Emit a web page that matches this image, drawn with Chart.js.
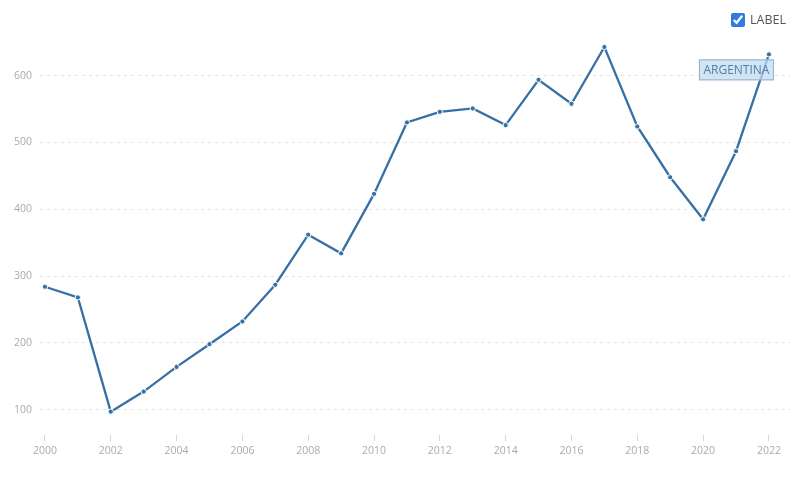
<!DOCTYPE html>
<html>
<head>
<meta charset="utf-8">
<script src="https://cdn.jsdelivr.net/npm/chart.js@4"></script>
<style>
  html, body { margin: 0; padding: 0; background: #fff; }
  #wrap { position: relative; width: 800px; height: 501px; font-family: "Open Sans", sans-serif; }
  #legend { position: absolute; top: 11px; left: 731px; display: flex; align-items: center; font-size: 12.5px; color: #555; }
  #legend input { margin: 0 5px 0 0; width: 14px; height: 14px; accent-color: #2f7be0; }
</style>
</head>
<body>
<div id="wrap">
  <canvas id="chart" width="800" height="501"></canvas>
  <label id="legend"><input type="checkbox" checked>LABEL</label>
</div>
<script>
// Argentina series
const YEARS = [2000, 2001, 2002, 2003, 2004, 2005, 2006, 2007, 2008, 2009, 2010, 2011,
               2012, 2013, 2014, 2015, 2016, 2017, 2018, 2019, 2020, 2021, 2022];
const VALUES = [284, 268, 97, 127, 164, 198, 232, 287, 362, 334, 423, 530,
                546, 551, 526, 594, 558, 643, 524, 448, 385, 487, 632];
const X_TICKS = [2000, 2002, 2004, 2006, 2008, 2010, 2012, 2014, 2016, 2018, 2020, 2022];
const Y_TICKS = [100, 200, 300, 400, 500, 600];
const SERIES_LABEL = "ARGENTINA";

const LINE_COLOR = "#3670a6";

// label box hanging off the last point
const endLabel = {
  id: "endLabel",
  afterDatasetsDraw(chart){
    const meta = chart.getDatasetMeta(0);
    const pt = meta.data[meta.data.length - 1];
    const ctx = chart.ctx;
    ctx.save();
    ctx.font = "12px 'Open Sans', sans-serif";
    const w = ctx.measureText(SERIES_LABEL).width + 9;
    const h = 21;
    const x = pt.x + 5 - w;
    const y = pt.y + 5;
    ctx.fillStyle = "rgba(196,219,238,0.75)";
    ctx.fillRect(x, y, w, h);
    ctx.strokeStyle = "#8db2d4";
    ctx.lineWidth = 1;
    ctx.strokeRect(x + 0.5, y + 0.5, w - 1, h - 1);
    ctx.fillStyle = "#4f7fae";
    ctx.textAlign = "center";
    ctx.textBaseline = "middle";
    ctx.fillText(SERIES_LABEL, x + w / 2, y + h / 2 + 1);
    ctx.restore();
  }
};

new Chart(document.getElementById("chart"), {
  type: "line",
  data: {
    datasets: [{
      label: SERIES_LABEL,
      data: YEARS.map((yr, i) => ({ x: yr, y: VALUES[i] })),
      borderColor: LINE_COLOR,
      borderWidth: 2.3,
      pointRadius: 2.6,
      pointBackgroundColor: LINE_COLOR,
      pointBorderColor: "#fff",
      pointBorderWidth: 1,
      tension: 0
    }]
  },
  options: {
    responsive: false,
    animation: false,
    layout: { padding: { top: 39, right: 10, bottom: 35, left: 0 } },
    plugins: { legend: { display: false }, tooltip: { enabled: false } },
    scales: {
      x: {
        type: "linear",
        min: 1999.85,
        max: 2022.64,
        afterBuildTicks(scale){ scale.ticks = X_TICKS.map(v => ({ value: v })); },
        afterFit(scale){ scale.height = 31; },
        border: { display: false },
        grid: { drawOnChartArea: false, tickLength: 6, tickColor: "#d6d6d6" },
        ticks: {
          padding: 4,
          color: "#aaa",
          font: { family: "'Open Sans', sans-serif", size: 10.5 },
          maxRotation: 0,
          callback: v => String(v)
        }
      },
      y: {
        min: 62,
        max: 655,
        afterBuildTicks(scale){ scale.ticks = Y_TICKS.map(v => ({ value: v })); },
        afterFit(scale){ scale.width = 40; },
        border: { display: false, dash: [3, 4] },
        grid: { color: "#e2e2e2", drawTicks: false, lineWidth: 1 },
        ticks: {
          padding: 8,
          color: "#aaa",
          font: { family: "'Open Sans', sans-serif", size: 10.5 }
        }
      }
    }
  },
  plugins: [endLabel]
});
</script>
</body>
</html>
